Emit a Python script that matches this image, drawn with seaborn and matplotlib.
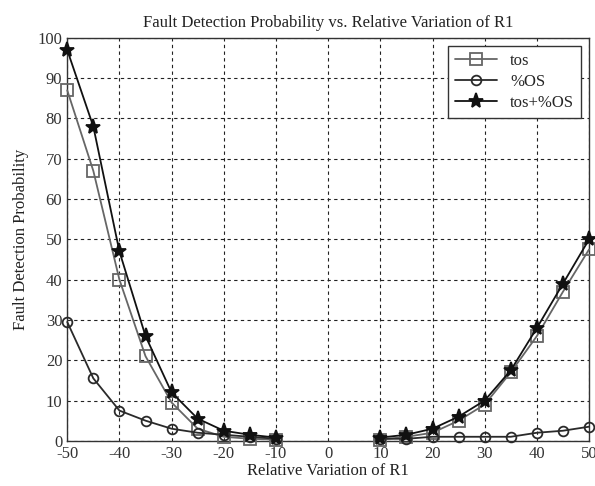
import matplotlib
matplotlib.use("Agg")
import matplotlib.pyplot as plt
import seaborn as sns
import numpy as np

# Data
x_neg = [-50, -45, -40, -35, -30, -25, -20, -15, -10]
x_pos = [10, 15, 20, 25, 30, 35, 40, 45, 50]

tos_neg = [87, 67, 40, 21, 9.5, 3, 1, 0.5, 0.3]
os_neg = [29.5, 15.5, 7.5, 5, 3, 2, 1.5, 1, 0.5]
both_neg = [97, 78, 47, 26, 12, 5.5, 2.5, 1.5, 0.8]

tos_pos = [0.3, 1, 2, 5, 9, 17, 26, 37, 47.5]
os_pos = [0.5, 0.5, 1, 1, 1, 1, 2, 2.5, 3.5]
both_pos = [0.8, 1.5, 3, 6, 10, 17.5, 28, 39, 50]

series = [
    ("tos", tos_neg, tos_pos, "s", "#666666", "none", 8),
    ("%OS", os_neg, os_pos, "o", "#2a2a2a", "none", 7),
    ("tos+%OS", both_neg, both_pos, "*", "#111111", "#111111", 11),
]

sns.set_style("white")
plt.rcParams["font.family"] = ["Liberation Serif", "DejaVu Serif"]
plt.rcParams["axes.unicode_minus"] = False

fig = plt.figure(figsize=(5.95, 4.86), dpi=100)
ax = fig.add_axes([0.113, 0.093, 0.877, 0.829])

for name, yn, yp, mk, col, fc, ms in series:
    sns.lineplot(x=x_neg, y=yn, ax=ax, color=col, marker=mk, markersize=ms,
                 markerfacecolor=fc, markeredgecolor=col, markeredgewidth=1.3,
                 linewidth=1.3, label=name, clip_on=False, zorder=3)
    sns.lineplot(x=x_pos, y=yp, ax=ax, color=col, marker=mk, markersize=ms,
                 markerfacecolor=fc, markeredgecolor=col, markeredgewidth=1.3,
                 linewidth=1.3, legend=False, clip_on=False, zorder=3)

ax.set_xlim(-50, 50)
ax.set_ylim(0, 100)
ax.set_xticks(np.arange(-50, 51, 10))
ax.set_yticks(np.arange(0, 101, 10))
ax.grid(True, color="#222222", linestyle=(0, (3, 3)), linewidth=0.8)
for s in ax.spines.values():
    s.set_color("#333333")
    s.set_linewidth(1.0)
ax.tick_params(labelsize=12, colors="#333333", direction="in", length=4)

ax.set_title("Fault Detection Probability vs. Relative Variation of R1", fontsize=12, color="#222222", pad=8)
ax.set_xlabel("Relative Variation of R1", fontsize=12, color="#222222", labelpad=1)
ax.set_ylabel("Fault Detection Probability", fontsize=12, color="#222222", labelpad=6)

leg = ax.legend(loc="upper right", fontsize=12, frameon=True, fancybox=False,
                edgecolor="#333333", framealpha=1, borderaxespad=0.5,
                handlelength=2.5, labelspacing=0.3)
leg.get_frame().set_linewidth(1.0)
leg.set_zorder(5)

fig.savefig("out.png", dpi=100)
